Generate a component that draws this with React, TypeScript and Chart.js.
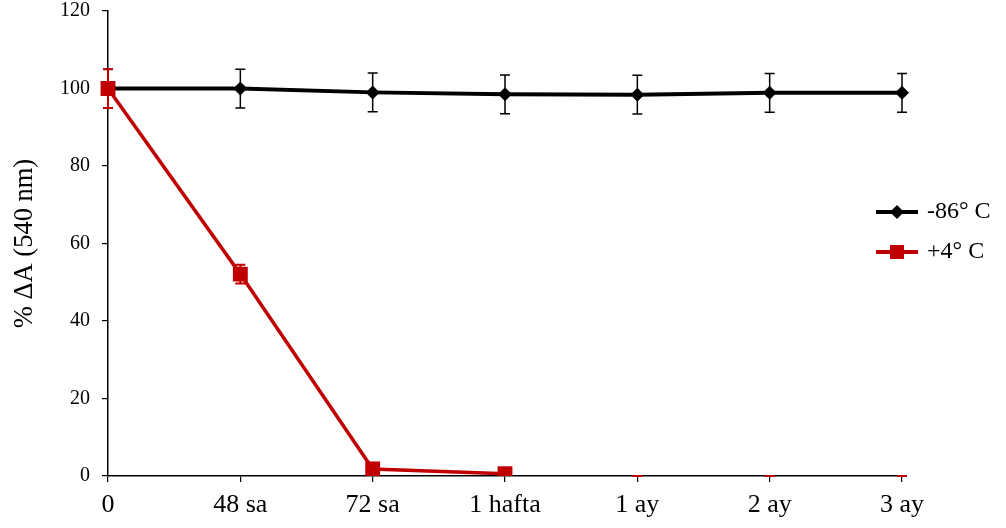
import React, { useEffect, useRef } from "react";
import { Chart, registerables } from "chart.js";

Chart.register(...registerables);

const categories = ["0", "48 sa", "72 sa", "1 hafta", "1 ay", "2 ay", "3 ay"];
const coldValues = [100, 100, 99, 98.5, 98.4, 98.9, 98.9];
const coldErrors = [5, 5, 5, 5, 5, 5, 5];
const warmValues: (number | null)[] = [100, 52.1, 1.8, 0.6, null, null, null];
const warmErrors = [5, 2.4, 0, 0, 0, 0, 0];
const seriesNames = ["-86° C", "+4° C"];
const yTicks = [0, 20, 40, 60, 80, 100, 120];

const FONT = "'Liberation Serif', 'Times New Roman', serif";
const BLACK = "#000000";
const RED = "#C00000";

const errorPlugin = {
  id: "errorBars",
  afterDatasetDraw(chart: any, args: any) {
    const { ctx, scales } = chart;
    const idx = args.index;
    const values = idx === 0 ? coldValues : warmValues;
    const errs = idx === 0 ? coldErrors : warmErrors;
    const color = idx === 0 ? BLACK : RED;
    ctx.save();
    ctx.strokeStyle = color;
    ctx.lineWidth = idx === 0 ? 1.5 : 2;
    for (let i = 0; i < categories.length; i++) {
      const v = values[i] ?? 0;
      const e = errs[i];
      const x = scales.x.getPixelForValue(i);
      const yTop = scales.y.getPixelForValue(v + e);
      const yBot = scales.y.getPixelForValue(v - e);
      ctx.beginPath();
      ctx.moveTo(x, yTop);
      ctx.lineTo(x, yBot);
      ctx.moveTo(x - 5, yTop);
      ctx.lineTo(x + 5, yTop);
      ctx.moveTo(x - 5, yBot);
      ctx.lineTo(x + 5, yBot);
      ctx.stroke();
    }
    ctx.restore();
  },
};

const legendPlugin = {
  id: "sideLegend",
  afterDraw(chart: any) {
    const { ctx } = chart;
    const items = [
      { name: seriesNames[0], color: BLACK, style: "diamond", y: 212 },
      { name: seriesNames[1], color: RED, style: "square", y: 252 },
    ];
    ctx.save();
    for (const it of items) {
      ctx.strokeStyle = it.color;
      ctx.fillStyle = it.color;
      ctx.lineWidth = 4;
      ctx.beginPath();
      ctx.moveTo(876, it.y);
      ctx.lineTo(918, it.y);
      ctx.stroke();
      const cx = 897;
      ctx.beginPath();
      if (it.style === "diamond") {
        ctx.moveTo(cx - 7, it.y);
        ctx.lineTo(cx, it.y - 7);
        ctx.lineTo(cx + 7, it.y);
        ctx.lineTo(cx, it.y + 7);
        ctx.closePath();
      } else {
        ctx.rect(cx - 7, it.y - 7, 14, 14);
      }
      ctx.fill();
      ctx.fillStyle = BLACK;
      ctx.font = `24px ${FONT}`;
      ctx.textAlign = "left";
      ctx.textBaseline = "middle";
      ctx.fillText(it.name, 927, it.y);
    }
    ctx.restore();
  },
};

export default function App() {
  const ref = useRef<HTMLCanvasElement>(null);
  useEffect(() => {
    if (!ref.current) return;
    const chart = new Chart(ref.current, {
      type: "line",
      data: {
        labels: categories,
        datasets: [
          {
            label: seriesNames[0],
            data: coldValues,
            borderColor: BLACK,
            backgroundColor: BLACK,
            borderWidth: 4,
            pointStyle: "rectRot",
            pointRadius: 7,
            pointBorderWidth: 0,
            pointBackgroundColor: BLACK,
            order: 2,
          },
          {
            label: seriesNames[1],
            data: warmValues,
            borderColor: RED,
            backgroundColor: RED,
            borderWidth: 3.5,
            pointStyle: "rect",
            pointRadius: 10.5,
            pointBorderWidth: 0,
            pointBackgroundColor: RED,
            spanGaps: false,
            order: 1,
          },
        ],
      },
      options: {
        animation: false,
        responsive: false,
        layout: { padding: { top: 0, right: 104, left: 0, bottom: 0 } },
        plugins: { legend: { display: false }, tooltip: { enabled: false } },
        scales: {
          x: {
            type: "category",
            offset: false,
            grid: { drawOnChartArea: false, tickLength: 6, color: BLACK, lineWidth: 1.2 },
            border: { color: BLACK, width: 1.5 },
            ticks: { color: BLACK, font: { family: FONT, size: 26 }, padding: 8, maxRotation: 0, autoSkip: false },
            afterFit(scale: any) {
              scale.height = 52;
            },
          },
          y: {
            min: 0,
            max: 120,
            afterBuildTicks(scale: any) {
              scale.ticks = yTicks.map((v) => ({ value: v }));
            },
            grid: { drawOnChartArea: false, tickLength: 6, color: BLACK, lineWidth: 1.2 },
            border: { color: BLACK, width: 1.5 },
            ticks: { color: BLACK, font: { family: FONT, size: 20 }, padding: 12 },
            title: {
              display: true,
              text: "% ΔA (540 nm)",
              color: BLACK,
              font: { family: FONT, size: 26.5 },
              padding: { top: 9, bottom: 0 },
            },
            afterFit(scale: any) {
              scale.width = 108;
              scale.paddingTop = 11;
              scale.paddingBottom = 0;
            },
          },
        },
      },
      plugins: [errorPlugin, legendPlugin],
    });
    return () => chart.destroy();
  }, []);
  return (
    <div style={{ position: "absolute", left: 0, top: 0, width: 1006, height: 528 }}>
      <canvas ref={ref} width={1006} height={528} />
    </div>
  );
}
